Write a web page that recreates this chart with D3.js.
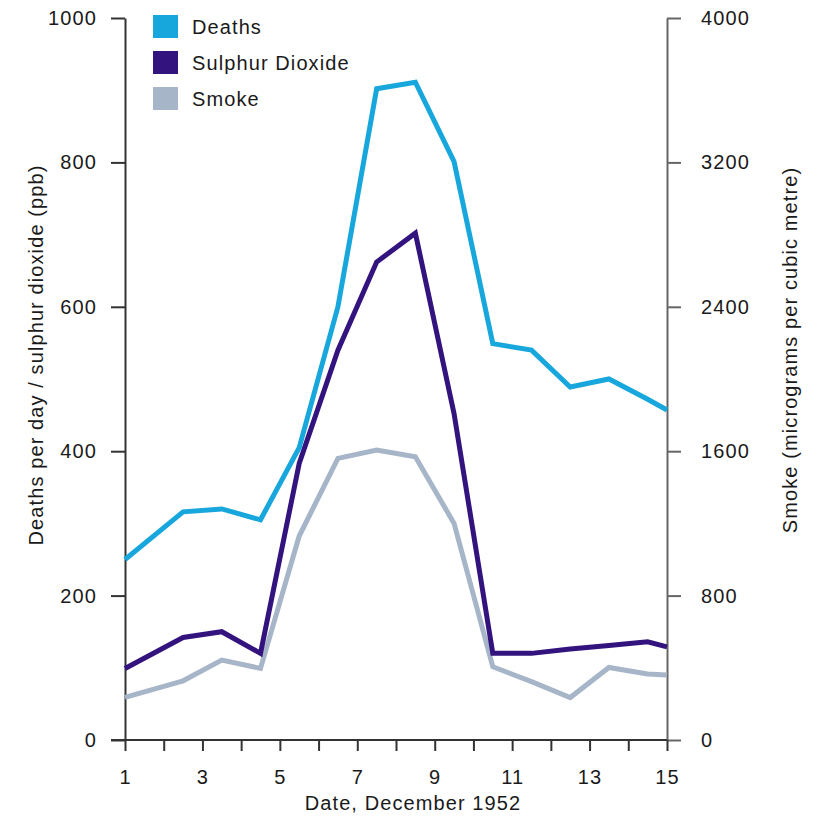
<!DOCTYPE html>
<html>
<head>
<meta charset="utf-8">
<script src="https://cdn.jsdelivr.net/npm/d3@7"></script>
<style>
  html, body { margin: 0; padding: 0; background: #fff; }
  svg text { font-family: "Liberation Sans", Arial, Helvetica, sans-serif; fill: #1a1a1a; }
</style>
</head>
<body>
<svg id="chart" width="817" height="820"></svg>
<script>
const days = [1, 2.5, 3.5, 4.5, 5.5, 6.5, 7.5, 8.5, 9.5, 10.5, 11.5, 12.5, 13.5, 14.5, 15];
const deaths = [250, 316, 320, 305, 405, 600, 902, 911, 801, 549, 540, 489, 500, 472, 457];
const sulphurDioxide = [99, 142, 150, 120, 383, 540, 662, 702, 452, 120, 120, 126, 131, 136, 129];
const smoke = [236, 328, 443, 397, 1130, 1560, 1607, 1569, 1200, 406, 323, 235, 402, 366, 360];

const xTicks = [1,2,3,4,5,6,7,8,9,10,11,12,13,14,15];
const xTickLabels = [1,3,5,7,9,11,13,15];
const leftTicks = [0, 200, 400, 600, 800, 1000];
const rightTicks = [0, 800, 1600, 2400, 3200, 4000];
const seriesNames = ["Deaths", "Sulphur Dioxide", "Smoke"];
const seriesColors = ["#18a7dc", "#33137e", "#a6b5c7"];

const svg = d3.select("#chart");
const L = 125, R = 667, T = 18, B = 740;

const x = d3.scaleLinear().domain([1, 15]).range([L, R]);
const yL = d3.scaleLinear().domain([0, 1000]).range([B, T]);
const yR = d3.scaleLinear().domain([0, 4000]).range([B, T]);

const axisColor = "#333";
const fontSize = 20, ls = "1.1px";
const plain = d3.format("d");

// Left axis
const gL = svg.append("g").attr("transform", `translate(${L},0)`)
  .call(d3.axisLeft(yL).tickValues(leftTicks).tickFormat(plain).tickSize(14).tickPadding(14).tickSizeOuter(0));
// Right axis
const gR = svg.append("g").attr("transform", `translate(${R},0)`)
  .call(d3.axisRight(yR).tickValues(rightTicks).tickFormat(plain).tickSize(14).tickPadding(20).tickSizeOuter(0));
// Bottom axis
const gB = svg.append("g").attr("transform", `translate(0,${B})`)
  .call(d3.axisBottom(x).tickValues(xTicks).tickSize(11).tickPadding(15).tickSizeOuter(0)
    .tickFormat(d => xTickLabels.includes(d) ? d : ""));

[gL, gR, gB].forEach(g => {
  g.select(".domain").attr("stroke", axisColor).attr("stroke-width", 2);
  g.selectAll(".tick line").attr("stroke", axisColor).attr("stroke-width", 2);
  g.selectAll(".tick text").attr("font-size", fontSize).attr("letter-spacing", ls)
    .attr("fill", "#1a1a1a").style("font-family", '"Liberation Sans", Arial, sans-serif');
});
gR.select(".domain").attr("stroke", "#666");
gR.selectAll(".tick line").attr("stroke", "#666");
// x-axis extends left beyond the y axis
gB.select(".domain").attr("d", `M${L - 14},0H${R}`);
gB.selectAll(".tick text").attr("dy", "0.9em");

// Lines
const line = (yScale) => d3.line().x((d, i) => x(days[i])).y(d => yScale(d)).curve(d3.curveLinear);
const plotGroup = svg.append("g");
plotGroup.append("path").datum(smoke).attr("d", line(yR))
  .attr("fill", "none").attr("stroke", seriesColors[2]).attr("stroke-width", 5).attr("stroke-linejoin", "miter");
plotGroup.append("path").datum(sulphurDioxide).attr("d", line(yL))
  .attr("fill", "none").attr("stroke", seriesColors[1]).attr("stroke-width", 5).attr("stroke-linejoin", "miter");
plotGroup.append("path").datum(deaths).attr("d", line(yL))
  .attr("fill", "none").attr("stroke", seriesColors[0]).attr("stroke-width", 5).attr("stroke-linejoin", "miter");

// Axis titles
svg.append("text")
  .attr("transform", `translate(43,355) rotate(-90)`)
  .attr("text-anchor", "middle").attr("font-size", fontSize).attr("letter-spacing", ls)
  .text("Deaths per day / sulphur dioxide (ppb)");
svg.append("text")
  .attr("transform", `translate(797,350) rotate(-90)`)
  .attr("text-anchor", "middle").attr("font-size", fontSize).attr("letter-spacing", ls)
  .text("Smoke (micrograms per cubic metre)");
svg.append("text")
  .attr("x", (L + R) / 2 + 17).attr("y", 810)
  .attr("text-anchor", "middle").attr("font-size", fontSize).attr("letter-spacing", ls)
  .text("Date, December 1952");

// Legend
const leg = svg.append("g");
seriesNames.forEach((name, i) => {
  const g = leg.append("g").attr("transform", `translate(153,${15 + i * 36})`);
  g.append("rect").attr("width", 25).attr("height", 23).attr("fill", seriesColors[i]);
  g.append("text").attr("x", 39).attr("y", 19).attr("font-size", fontSize).attr("letter-spacing", ls).text(name);
});
</script>
</body>
</html>
